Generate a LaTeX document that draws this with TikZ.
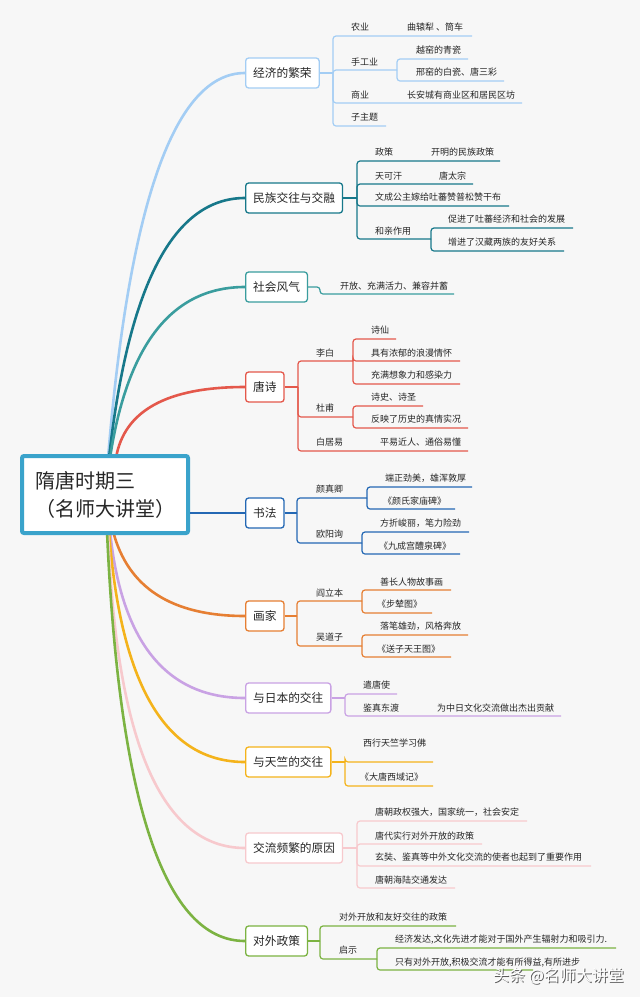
\documentclass[tikz,border=0pt]{standalone}
\usepackage{fontspec}
\setmainfont{Noto Sans CJK SC}
\usetikzlibrary{calc}
\definecolor{bg}{HTML}{F7F7F7}
\definecolor{txt}{HTML}{262626}
\definecolor{cen}{HTML}{3AA3CB}
\definecolor{cA}{HTML}{A3CDF4}
\definecolor{cB}{HTML}{17788A}
\definecolor{cC}{HTML}{3A9D9E}
\definecolor{cD}{HTML}{E4584B}
\definecolor{cE}{HTML}{2468B4}
\definecolor{cF}{HTML}{E67F33}
\definecolor{cG}{HTML}{C9A2E4}
\definecolor{cH}{HTML}{F4B31B}
\definecolor{cI}{HTML}{F7C9CD}
\definecolor{cJ}{HTML}{7CB342}
\tikzset{
  leaf/.style={anchor=base west, inner sep=0pt, font=\fontsize{9}{10}\selectfont, text=txt},
  topicbox/.style={draw=#1, fill=white, rounded corners=3pt, line width=1.3pt, anchor=west,
    minimum height=30pt, inner xsep=7.5pt, inner ysep=0pt, text height=9.7pt, text depth=0.8pt,
    font=\fontsize{11.7}{13}\selectfont, text=txt},
  subline/.style={draw=#1, line width=1.2pt, rounded corners=3pt},
  mcurve/.style={draw=#1, line width=2.6pt},
  centralbox/.style={draw=cen, fill=white, line width=4pt, rounded corners=2pt,
    minimum width=166pt, minimum height=77pt, text width=140pt, align=left,
    font=\fontsize{20}{28}\selectfont, text=txt},
}
\newcommand\lf[4]{\node[leaf] (#1) at (#2,{#3+3.4}) {#4};}
\newcommand\ul[5]{\coordinate (#3) at (#4,#5); \draw[subline=#1] (#2) |- (#3);}
\newcommand\mc[4]{%
  \coordinate (ctl) at ($(#1|-#2.west)+(#3,0)$);
  \draw[mcurve=#4] (#1) .. controls ($(#1)!0.667!(ctl)$) and ($(#2.west)!0.667!(ctl)$) .. (#2.west);}
\begin{document}
\begin{tikzpicture}[x=1pt,y=-1pt]
\useasboundingbox (0,0) rectangle (640,997);
\fill[bg] (0,0) rectangle (640,997);

% ---------- topic boxes ----------
\node[topicbox=cA] (t1) at (245,73) {经济的繁荣};
\node[topicbox=cB] (t2) at (245,198) {民族交往与交融};
\node[topicbox=cC] (t3) at (245,287) {社会风气};
\node[topicbox=cD] (t4) at (245,387) {唐诗};
\node[topicbox=cE] (t5) at (245,513) {书法};
\node[topicbox=cF] (t6) at (245,616) {画家};
\node[topicbox=cG] (t7) at (245,698) {与日本的交往};
\node[topicbox=cH] (t8) at (245,762) {与天竺的交往};
\node[topicbox=cI] (t9) at (245,848) {交流频繁的原因};
\node[topicbox=cJ] (t10) at (245,941) {对外政策};

% ---------- curves from the central topic ----------
\coordinate (s1) at (108,458);
\coordinate (s2) at (109,458);
\coordinate (s3) at (110,458);
\coordinate (s4) at (116,458);
\coordinate (s6) at (113,531);
\coordinate (s7) at (110,531);
\coordinate (s8) at (109,531);
\coordinate (s9) at (108,531);
\coordinate (s10) at (107,531);
\mc{s1}{t1}{32}{cA}
\mc{s2}{t2}{29}{cB}
\mc{s3}{t3}{26}{cC}
\mc{s4}{t4}{12}{cD}
\mc{s6}{t6}{22}{cF}
\mc{s7}{t7}{17}{cG}
\mc{s8}{t8}{17}{cH}
\mc{s9}{t9}{12}{cI}
\mc{s10}{t10}{18}{cJ}

% ---------- central topic ----------
\node[centralbox] (c) at (105,494.5) {隋唐时期三\\（名师大讲堂）};
\draw[mcurve=cE] (c.east |- t5.west) -- (t5.west);

% ---------- 1 经济的繁荣 ----------
\coordinate (j1) at (333,73);
\draw[subline=cA] (t1.east) -- (j1);
\lf{a1}{351}{27}{农业}
\lf{a1x}{407}{27}{曲辕犁 、筒车}
\ul{cA}{j1}{e1a}{472}{36}
\lf{a2}{351}{62}{手工业}
\ul{cA}{j1}{j1b}{397}{70}
\lf{a2a}{416}{50}{越窑的青瓷}
\ul{cA}{j1b}{e1b1}{468}{59}
\lf{a2b}{416}{72}{邢窑的白瓷、唐三彩}
\ul{cA}{j1b}{e1b2}{504}{81}
\lf{a3}{351}{95}{商业}
\lf{a3x}{407}{95}{长安城有商业区和居民区坊}
\ul{cA}{j1}{e1c}{522}{103}
\lf{a4}{351}{117}{子主题}
\ul{cA}{j1}{e1d}{386}{126}

% ---------- 2 民族交往与交融 ----------
\coordinate (j2) at (357,198);
\draw[subline=cB] (t2.east) -- (j2);
\lf{b1}{375}{152}{政策}
\lf{b1x}{431}{152}{开明的民族政策}
\ul{cB}{j2}{e2a}{500}{161}
\lf{b2}{375}{176}{天可汗}
\lf{b2x}{439}{176}{唐太宗}
\ul{cB}{j2}{e2b}{473}{184}
\lf{b3}{375}{197}{文成公主嫁给吐蕃赞普松赞干布}
\ul{cB}{j2}{e2c}{509}{206}
\lf{b4}{375}{231}{和亲作用}
\ul{cB}{j2}{j2b}{431}{239}
\lf{b4a}{448}{219}{促进了吐蕃经济和社会的发展}
\ul{cB}{j2b}{e2d1}{573}{228}
\lf{b4b}{448}{242}{增进了汉藏两族的友好关系}
\ul{cB}{j2b}{e2d2}{564}{251}

% ---------- 3 社会风气 ----------
\coordinate (j3) at (320,287);
\coordinate (e3) at (454,294);
\draw[subline=cC] (t3.east) -- (j3) |- (e3);
\lf{c1}{340}{286}{开放、充满活力、兼容并蓄}

% ---------- 4 唐诗 ----------
\coordinate (j4) at (298,387);
\draw[subline=cD] (t4.east) -- (j4);
\lf{d1}{316}{353}{李白}
\ul{cD}{j4}{j4a}{353}{361}
\lf{d1a}{371}{330}{诗仙}
\ul{cD}{j4a}{e4a1}{396}{339}
\lf{d1b}{371}{353}{具有浓郁的浪漫情怀}
\ul{cD}{j4a}{e4a2}{460}{361}
\lf{d1c}{371}{375}{充满想象力和感染力}
\ul{cD}{j4a}{e4a3}{460}{384}
\lf{d2}{316}{408}{杜甫}
\ul{cD}{j4}{j4b}{353}{417}
\lf{d2a}{371}{397}{诗史、诗圣}
\ul{cD}{j4b}{e4b1}{423}{406}
\lf{d2b}{371}{419}{反映了历史的真情实况}
\ul{cD}{j4b}{e4b2}{468}{428}
\lf{d3}{316}{442}{白居易}
\lf{d3x}{380}{442}{平易近人、通俗易懂}
\ul{cD}{j4}{e4c}{468}{451}

% ---------- 5 书法 ----------
\coordinate (j5) at (297,513);
\draw[subline=cE] (t5.east) -- (j5);
\lf{e1}{316}{489}{颜真卿}
\ul{cE}{j5}{j5a}{367}{498}
\lf{e1a}{385}{478}{端正劲美，雄浑敦厚}
\ul{cE}{j5a}{e5a1}{472}{487}
\lf{e1b}{383}{501}{《颜氏家庙碑》}
\ul{cE}{j5a}{e5a2}{455}{509}
\lf{e2}{316}{534}{欧阳询}
\ul{cE}{j5}{j5b}{362}{543}
\lf{e2a}{380}{523}{方折峻丽，笔力险劲}
\ul{cE}{j5b}{e5b1}{469}{532}
\lf{e2b}{379}{546}{《九成宫醴泉碑》}
\ul{cE}{j5b}{e5b2}{460}{554}

% ---------- 6 画家 ----------
\coordinate (j6) at (297,616);
\draw[subline=cF] (t6.east) -- (j6);
\lf{f1}{316}{593}{阎立本}
\ul{cF}{j6}{j6a}{362}{601}
\lf{f1a}{380}{582}{善长人物故事画}
\ul{cF}{j6a}{e6a1}{451}{590}
\lf{f1b}{377}{604}{《步辇图》}
\ul{cF}{j6a}{e6a2}{432}{613}
\lf{f2}{316}{637}{吴道子}
\ul{cF}{j6}{j6b}{362}{646}
\lf{f2a}{380}{626}{落笔雄劲，风格奔放}
\ul{cF}{j6b}{e6b1}{468}{635}
\lf{f2b}{377}{649}{《送子天王图》}
\ul{cF}{j6b}{e6b2}{451}{657}

% ---------- 7 与日本的交往 ----------
\coordinate (j7) at (345,698);
\draw[subline=cG] (t7.east) -- (j7);
\lf{g1}{363}{685}{遣唐使}
\ul{cG}{j7}{e7a}{397}{694}
\lf{g2}{363}{708}{鉴真东渡}
\lf{g2x}{437}{708}{为中日文化交流做出杰出贡献}
\ul{cG}{j7}{e7b}{561}{716}

% ---------- 8 与天竺的交往 ----------
\coordinate (j8) at (345,762);
\draw[subline=cH] (t8.east) -- (j8);
\lf{h1}{363}{743}{西行天竺学习佛}
\ul{cH}{j8}{e8a}{433}{762}
\lf{h2}{360}{777}{《大唐西域记》}
\ul{cH}{j8}{e8b}{433}{786}

% ---------- 9 交流频繁的原因 ----------
\coordinate (j9) at (357,848);
\draw[subline=cI] (t9.east) -- (j9);
\lf{i1}{375}{812}{唐朝政权强大，国家统一，社会安定}
\ul{cI}{j9}{e9a}{527}{821}
\lf{i2}{375}{836}{唐代实行对外开放的政策}
\ul{cI}{j9}{e9b}{482}{844}
\lf{i3}{375}{857}{玄奘、鉴真等中外文化交流的使者也起到了重要作用}
\ul{cI}{j9}{e9c}{591}{866}
\lf{i4}{375}{880}{唐朝海陆交通发达}
\ul{cI}{j9}{e9d}{455}{888}

% ---------- 10 对外政策 ----------
\coordinate (j10) at (320,941);
\draw[subline=cJ] (t10.east) -- (j10);
\lf{k1}{339}{917}{对外开放和友好交往的政策}
\ul{cJ}{j10}{e10a}{456}{926}
\lf{k2}{339}{950}{启示}
\ul{cJ}{j10}{j10b}{377}{959}
\lf{k2a}{395}{939}{经济发达,文化先进才能对于国外产生辐射力和吸引力.}
\ul{cJ}{j10b}{e10b1}{616}{948}
\lf{k2b}{395}{962}{只有对外开放,积极交流才能有所得益,有所进步}
\ul{cJ}{j10b}{e10b2}{533}{970}

% ---------- watermark ----------
\node[anchor=base west, inner sep=0pt, font=\fontsize{16}{16}\selectfont, text=black!65] (wmS) at (494,982) {头条 @名师大讲堂};
\node[anchor=base west, inner sep=0pt, font=\fontsize{16}{16}\selectfont, text=white] (wm) at (493,981) {头条 @名师大讲堂};
\end{tikzpicture}
\end{document}
